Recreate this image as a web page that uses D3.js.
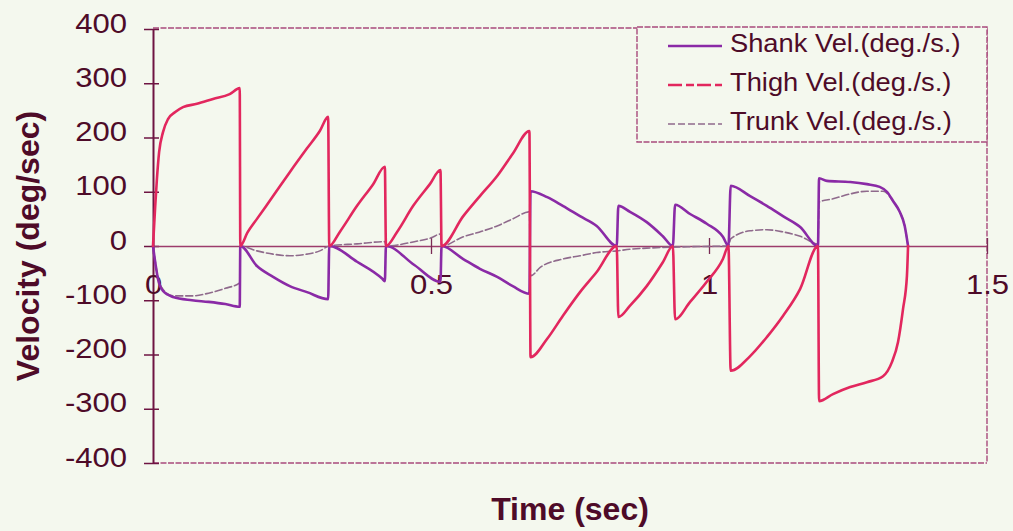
<!DOCTYPE html>
<html>
<head>
<meta charset="utf-8">
<script src="https://cdn.jsdelivr.net/npm/d3@7"></script>
<style>
  html, body { margin: 0; padding: 0; background: #f4f8ee; }
  svg { display: block; }
  text { font-family: "Liberation Sans", Arial, sans-serif; }
</style>
</head>
<body>
<svg id="chart" width="1013" height="531"></svg>
<script>
// Segment velocities (deg/s) against time (s); vertical jumps are closely spaced time pairs.
const thighVel = [
  [0,0],[0.002,37],[0.004,74],[0.007,123],[0.011,173],[0.018,210],[0.027,234],[0.04,247],
  [0.054,256],[0.079,262],[0.108,271],[0.138,280],[0.156,291],
  [0.157,0],[0.17,25],[0.187,50],[0.216,92],[0.246,136],[0.277,180],[0.3,212],[0.315,238],
  [0.317,0],[0.336,26],[0.367,74],[0.396,114],[0.417,146],
  [0.419,0],[0.439,26],[0.468,74],[0.498,114],[0.517,140],
  [0.519,0],[0.558,55],[0.588,92],[0.619,129],[0.647,170],[0.677,212],
  [0.679,-205],[0.709,-171],[0.737,-129],[0.768,-85],[0.798,-48],[0.834,0],
  [0.837,-131],[0.858,-110],[0.888,-74],[0.917,-30],[0.935,0],
  [0.939,-135],[0.966,-103],[0.996,-66],[1.025,-24],[1.035,0],
  [1.039,-230],[1.074,-203],[1.104,-168],[1.133,-129],[1.164,-79],[1.196,0],
  [1.198,-286],[1.223,-273],[1.254,-260],[1.284,-251],[1.313,-240],[1.329,-214],
  [1.34,-177],[1.349,-116],[1.356,-55],[1.358,0]
];

const shankVel = [
  [0,0],[0.004,-30],[0.009,-61],[0.018,-83],[0.036,-94],[0.07,-100],[0.1,-103],[0.13,-107],[0.156,-112],
  [0.157,0],[0.187,-37],[0.216,-57],[0.246,-74],[0.277,-85],[0.315,-98],
  [0.317,0],[0.367,-29],[0.412,-60],[0.417,-65],
  [0.419,0],[0.47,-35],[0.517,-66],
  [0.519,0],[0.558,-24],[0.588,-42],[0.619,-57],[0.647,-74],[0.677,-88],
  [0.679,101],[0.709,90],[0.737,74],[0.768,55],[0.798,37],[0.834,0],
  [0.837,74],[0.858,63],[0.888,44],[0.917,18],[0.935,0],
  [0.939,76],[0.966,59],[0.996,41],[1.025,17],[1.035,0],
  [1.039,111],[1.074,92],[1.104,74],[1.133,55],[1.164,35],[1.196,0],
  [1.198,125],[1.212,120],[1.254,118],[1.284,114],[1.307,109],[1.32,100],[1.331,83],
  [1.343,63],[1.352,37],[1.358,0]
];

const trunkVel = [
  [0,0],[0.004,-28],[0.009,-58],[0.018,-80],[0.036,-92],[0.07,-92],[0.1,-87],[0.13,-78],[0.156,-68],
  [0.157,0],[0.187,-9],[0.216,-15],[0.246,-18],[0.277,-15],[0.3,-9],[0.317,0],
  [0.367,4],[0.417,8],
  [0.419,0],[0.47,8],[0.5,15],[0.517,22],
  [0.519,0],[0.558,17],[0.588,26],[0.619,37],[0.647,50],[0.677,63],
  [0.679,-55],[0.697,-39],[0.737,-24],[0.768,-18],[0.798,-12],[0.834,-9],[0.858,-6],
  [0.888,-4],[0.935,-2],[0.98,-1],[1.035,0],
  [1.039,13],[1.074,28],[1.104,30],[1.133,26],[1.164,18],[1.196,4],
  [1.198,81],[1.223,87],[1.254,96],[1.284,101],[1.313,101],[1.331,83],[1.343,63],
  [1.352,37],[1.358,0]
];

const seriesNames = ["Shank Vel.(deg./s.)", "Thigh Vel.(deg./s.)", "Trunk Vel.(deg./s.)"];
const xTicks = [0, 0.5, 1, 1.5];
const xTickLabels = ["0", "0.5", "1", "1.5"];
const yTicks = [-400, -300, -200, -100, 0, 100, 200, 300, 400];
const yTickLabels = ["-400", "-300", "-200", "-100", "0", "100", "200", "300", "400"];

const svg = d3.select("#chart");
const inkDark = "#4e0b28";
const inkAxis = "#6e1442";
const frameCol = "#a84a7c";

const x = d3.scaleLinear().domain([0, 1.5]).range([153, 987]);
const y = d3.scaleLinear().domain([-400, 400]).range([463, 29]);

// plot frame (top, right, bottom) drawn with a broken, printed look
const frame = svg.append("g").attr("fill", "none").attr("stroke", frameCol)
  .attr("stroke-width", 1.4).attr("stroke-dasharray", "6,1.5");
frame.append("line").attr("x1", x(0)).attr("x2", x(1.5)).attr("y1", 28).attr("y2", 28);
frame.append("line").attr("x1", x(1.5)).attr("x2", x(1.5)).attr("y1", 28).attr("y2", y(-400));
frame.append("line").attr("x1", x(0)).attr("x2", x(1.5)).attr("y1", y(-400)).attr("y2", y(-400));

// y axis with ticks crossing the spine
const yAxis = svg.append("g").attr("transform", `translate(${x(0)},0)`)
  .call(d3.axisLeft(y).tickValues(yTicks).tickFormat((d, i) => yTickLabels[i])
    .tickSize(9).tickPadding(0).tickSizeOuter(0));
yAxis.select(".domain").attr("stroke", inkAxis).attr("stroke-width", 2);
yAxis.selectAll(".tick line").attr("x1", 6).attr("stroke", inkAxis).attr("stroke-width", 1.5);
yAxis.selectAll(".tick text")
  .attr("x", -26 / 1.15).attr("y", 3).attr("dy", null)
  .attr("text-anchor", "end")
  .attr("transform", "scale(1.15,1)")
  .attr("fill", inkDark).attr("font-size", 27).attr("font-family", "Liberation Sans, Arial, sans-serif");

// x axis along zero velocity
const xAxis = svg.append("g").attr("transform", `translate(0,${y(0)})`)
  .call(d3.axisBottom(x).tickValues(xTicks).tickFormat((d, i) => xTickLabels[i])
    .tickSize(8).tickSizeOuter(0));
xAxis.select(".domain").attr("stroke", "#9c3c6c").attr("stroke-width", 1.5);
xAxis.selectAll(".tick line").attr("y1", -8).attr("stroke", "#7a2a55").attr("stroke-width", 1.3);
xAxis.selectAll(".tick text")
  .attr("y", 48).attr("dy", null).attr("x", 0)
  .attr("text-anchor", "middle")
  .attr("transform", "scale(1.15,1)")
  .attr("fill", inkDark).attr("font-size", 27).attr("font-family", "Liberation Sans, Arial, sans-serif");

// series lines
const line = d3.line().x(d => x(d[0])).y(d => y(d[1])).curve(d3.curveMonotoneX);
const styles = [
  { data: trunkVel, color: "#8f6a8c", width: 1.6, dash: "7,3" },
  { data: shankVel, color: "#8a2aa6", width: 2.6, dash: null },
  { data: thighVel, color: "#e2275e", width: 2.6, dash: null }
];
svg.append("g").selectAll("path").data(styles).join("path")
  .attr("d", s => line(s.data))
  .attr("fill", "none")
  .attr("stroke", s => s.color)
  .attr("stroke-width", s => s.width)
  .attr("stroke-dasharray", s => s.dash)
  .attr("stroke-linejoin", "round")
  .attr("stroke-linecap", "round");

// axis titles
svg.append("text")
  .attr("transform", "translate(28,246) rotate(-90)")
  .attr("text-anchor", "middle").attr("dominant-baseline", "central")
  .attr("font-size", 32).attr("font-weight", "bold").attr("fill", inkDark)
  .text("Velocity (deg/sec)");
svg.append("text")
  .attr("x", 570).attr("y", 520)
  .attr("text-anchor", "middle")
  .attr("font-size", 32).attr("font-weight", "bold").attr("fill", inkDark)
  .text("Time (sec)");

// legend
const legend = svg.append("g");
legend.append("rect").attr("x", 637).attr("y", 27).attr("width", 350).attr("height", 115)
  .attr("fill", "#f4f8ee").attr("stroke", frameCol).attr("stroke-width", 1.4)
  .attr("stroke-dasharray", "6,1.5");
const legendRows = [
  { name: seriesNames[0], color: "#8a2aa6", width: 2.4, dash: null, base: 52 },
  { name: seriesNames[1], color: "#e2275e", width: 2.4, dash: "14,4,8,3", base: 91 },
  { name: seriesNames[2], color: "#8f6a8c", width: 1.6, dash: "7,3", base: 130 }
];
const rows = legend.selectAll("g.row").data(legendRows).join("g").attr("class", "row");
rows.append("line")
  .attr("x1", 668).attr("x2", 722)
  .attr("y1", d => d.base - 6).attr("y2", d => d.base - 6)
  .attr("stroke", d => d.color).attr("stroke-width", d => d.width)
  .attr("stroke-dasharray", d => d.dash);
rows.append("text")
  .attr("x", 730 / 1.05).attr("y", d => d.base)
  .attr("transform", "scale(1.05,1)")
  .attr("font-size", 26).attr("fill", inkDark)
  .text(d => d.name);
</script>
</body>
</html>
